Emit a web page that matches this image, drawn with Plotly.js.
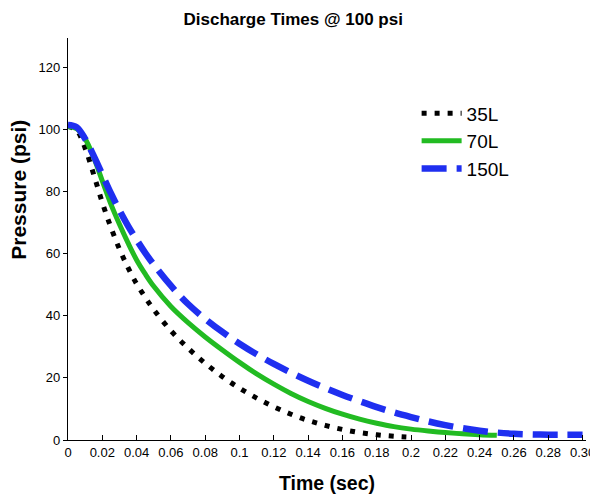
<!DOCTYPE html>
<html>
<head>
<meta charset="utf-8">
<script src="https://cdn.plot.ly/plotly-3.0.1.min.js"></script>
<style>html,body{margin:0;padding:0;background:#fff}#chart{width:590px;height:498px}</style>
</head>
<body>
<div id="chart"></div>
<script>
// Data
const t35 = [0, 0.005, 0.01, 0.015, 0.02, 0.025, 0.03, 0.035, 0.04, 0.045, 0.05, 0.06, 0.07, 0.08, 0.09, 0.10, 0.11, 0.12, 0.13, 0.14, 0.15, 0.16, 0.17, 0.18, 0.19, 0.20];
const p35 = [101, 99.8, 94, 85.5, 76.5, 68.5, 61.5, 55.5, 50.3, 46, 42, 35.2, 29.6, 24.7, 20.4, 16.7, 13.5, 10.7, 8.3, 6.3, 4.7, 3.4, 2.4, 1.7, 1.2, 0.9];

const t70 = [0, 0.005, 0.01, 0.015, 0.02, 0.025, 0.03, 0.035, 0.04, 0.045, 0.05, 0.06, 0.07, 0.08, 0.09, 0.10, 0.11, 0.12, 0.13, 0.14, 0.15, 0.16, 0.17, 0.18, 0.19, 0.20, 0.21, 0.22, 0.23, 0.24, 0.25];
const p70 = [101, 100.3, 97, 91, 83.5, 76, 69.5, 63.5, 58, 53.5, 49.5, 43, 37.8, 33.2, 29, 25, 21.3, 18, 15, 12.4, 10.2, 8.3, 6.7, 5.4, 4.3, 3.5, 2.9, 2.4, 2.0, 1.7, 1.5];

const t150 = [0, 0.005, 0.01, 0.015, 0.02, 0.025, 0.03, 0.035, 0.04, 0.045, 0.05, 0.06, 0.07, 0.08, 0.09, 0.10, 0.11, 0.12, 0.13, 0.14, 0.15, 0.16, 0.17, 0.18, 0.19, 0.20, 0.21, 0.22, 0.23, 0.24, 0.25, 0.26, 0.27, 0.28, 0.29, 0.30];
const p150 = [101.5, 100.8, 97, 91.5, 85.5, 79.5, 74, 69, 64.5, 60.3, 56.5, 49.7, 43.8, 39, 34.8, 31, 27.6, 24.5, 21.7, 19.1, 16.7, 14.5, 12.5, 10.6, 8.9, 7.4, 6.0, 4.8, 3.8, 3.0, 2.4, 2.0, 1.8, 1.7, 1.7, 1.7];

const seriesNames = ['35L', '70L', '150L'];
const xTickVals = [0, 0.02, 0.04, 0.06, 0.08, 0.1, 0.12, 0.14, 0.16, 0.18, 0.2, 0.22, 0.24, 0.26, 0.28, 0.30];
const xTickText = ['0', '0.02', '0.04', '0.06', '0.08', '0.1', '0.12', '0.14', '0.16', '0.18', '0.2', '0.22', '0.24', '0.26', '0.28', '0.30'];
const yTickVals = [0, 20, 40, 60, 80, 100, 120];

const FONT = 'Liberation Sans, Arial, Helvetica, sans-serif';

const traces = [
  {x: t35, y: p35, name: seriesNames[0], mode: 'lines',
   line: {color: '#000000', width: 5, dash: '5px,8px', shape: 'spline'}},
  {x: t70, y: p70, name: seriesNames[1], mode: 'lines',
   line: {color: '#22bb22', width: 5, shape: 'spline'}},
  {x: t150, y: p150, name: seriesNames[2], mode: 'lines',
   line: {color: '#1f2ff0', width: 6.5, dash: '25px,10px', shape: 'spline'}}
];

const layout = {
  width: 590, height: 498,
  margin: {l: 68, r: 4, t: 38, b: 58},
  paper_bgcolor: '#fff', plot_bgcolor: '#fff',
  font: {family: FONT, color: '#000', size: 13},
  title: {text: '<b>Discharge Times @ 100 psi</b>', x: 0.497, xref: 'container', xanchor: 'center',
          y: 0.962, yref: 'container', yanchor: 'middle', font: {family: FONT, size: 17, color: '#000'}},
  showlegend: true,
  legend: {x: 0.673, y: 0.86, xanchor: 'left', yanchor: 'top', bgcolor: 'rgba(0,0,0,0)',
           font: {family: FONT, size: 19, color: '#000'}, itemwidth: 40, tracegroupgap: 0},
  xaxis: {
    range: [0, 0.302], showgrid: false, zeroline: false, showline: true, linecolor: '#000', linewidth: 1.2,
    ticks: 'inside', ticklen: 5, tickcolor: '#000', tickvals: xTickVals, ticktext: xTickText,
    ticklabeloverflow: 'allow',
    tickfont: {family: FONT, size: 13, color: '#000'},
    title: {text: '<b>Time (sec)</b>', font: {family: FONT, size: 19.5, color: '#000'}, standoff: 17}
  },
  yaxis: {
    range: [0, 129.5], showgrid: false, zeroline: false, showline: true, linecolor: '#000', linewidth: 1.2,
    ticks: 'outside', ticklen: 4, tickcolor: '#000', tickvals: yTickVals,
    tickfont: {family: FONT, size: 13, color: '#000'}
  },
  annotations: [
    {text: '<b>Pressure (psi)</b>', textangle: -90, xref: 'paper', yref: 'paper',
     x: -0.095, y: 0.622, xanchor: 'center', yanchor: 'middle', showarrow: false,
     font: {family: FONT, size: 21, color: '#000'}}
  ]
};

Plotly.newPlot('chart', traces, layout, {displayModeBar: false, staticPlot: true});
</script>
</body>
</html>
